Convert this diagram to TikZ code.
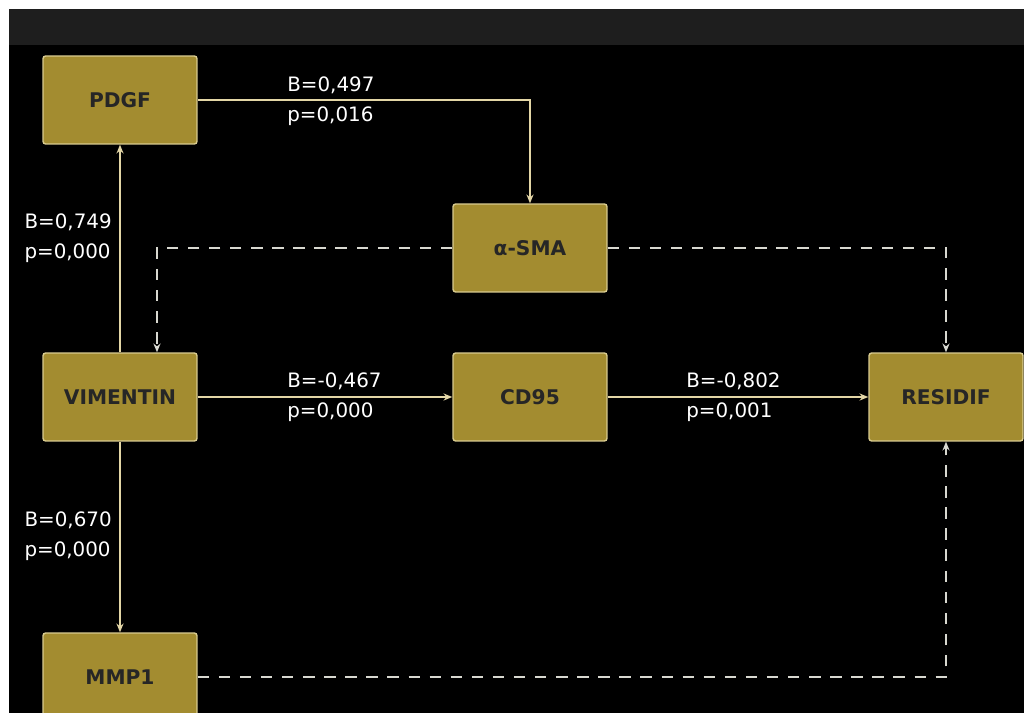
\documentclass[tikz,border=0pt]{standalone}
\usepackage{fontspec}
\setmainfont{DejaVu Sans}
\usetikzlibrary{arrows.meta}
\definecolor{boxgold}{HTML}{A38C30}
\definecolor{boxedge}{HTML}{DACC90}
\definecolor{linecream}{HTML}{E3D6A6}
\definecolor{dashgray}{HTML}{D8D8D0}
\definecolor{bargray}{HTML}{1E1E1E}

\begin{document}
\begin{tikzpicture}[x=0.02cm, y=-0.02cm,
  var/.style={draw=boxedge, fill=boxgold, line width=0.8pt, rounded corners=1.5pt,
    minimum width=3.08cm, minimum height=1.76cm, inner sep=0pt,
    font=\bfseries\fontsize{11.5}{13}\selectfont, text=black!85},
  effect/.style={linecream, line width=1pt, -{Stealth[length=5pt, width=4pt]}},
  nonsig/.style={dashgray, line width=1.1pt, dash pattern=on 6.5pt off 5.5pt,
    -{Stealth[length=5pt, width=4pt]}},
  coef/.style={font=\fontsize{11.3}{17}\selectfont, text=white, align=left, inner sep=0pt}]

  % Background: white margin, grey title bar, black panel
  \clip (0,0) rectangle (1024,713);
  \fill[white] (0,0) rectangle (1024,713);
  \fill[bargray] (9,9) rectangle (1024,45);
  \fill[black] (9,45) rectangle (1024,713);

  % Variables
  \node[var] (PDGF) at (120,100) {PDGF};
  \node[var] (SMA)  at (530,248) {α-SMA};
  \node[var] (VIM)  at (120,397) {VIMENTIN};
  \node[var] (CD95) at (530,397) {CD95};
  \node[var] (RES)  at (946,397) {RESIDIF};
  \node[var] (MMP)  at (120,677) {MMP1};

  % Significant paths
  \draw[effect] (VIM) -- (PDGF);
  \draw[effect] (PDGF.east) -| (SMA.north);
  \draw[effect] (VIM) -- (CD95);
  \draw[effect] (CD95) -- (RES);
  \draw[effect] (VIM) -- (MMP);

  % Non-significant paths (dashed)
  \draw[nonsig] (SMA.west) -| ([xshift=0.74cm]VIM.north);
  \draw[nonsig] (SMA.east) -| (RES.north);
  \draw[nonsig] (MMP.east) -| (RES.south);

  % Coefficients
  \node[coef, anchor=west] (cPDGF) at (287,101) {B=0,497\\p=0,016};
  \node[coef, anchor=east] (cVIMa) at (112,238) {B=0,749\\p=0,000};
  \node[coef, anchor=west] (cCD95) at (287,397) {B=-0,467\\p=0,000};
  \node[coef, anchor=west] (cRES)  at (686,397) {B=-0,802\\p=0,001};
  \node[coef, anchor=east] (cMMP)  at (112,536) {B=0,670\\p=0,000};

\end{tikzpicture}
\end{document}
